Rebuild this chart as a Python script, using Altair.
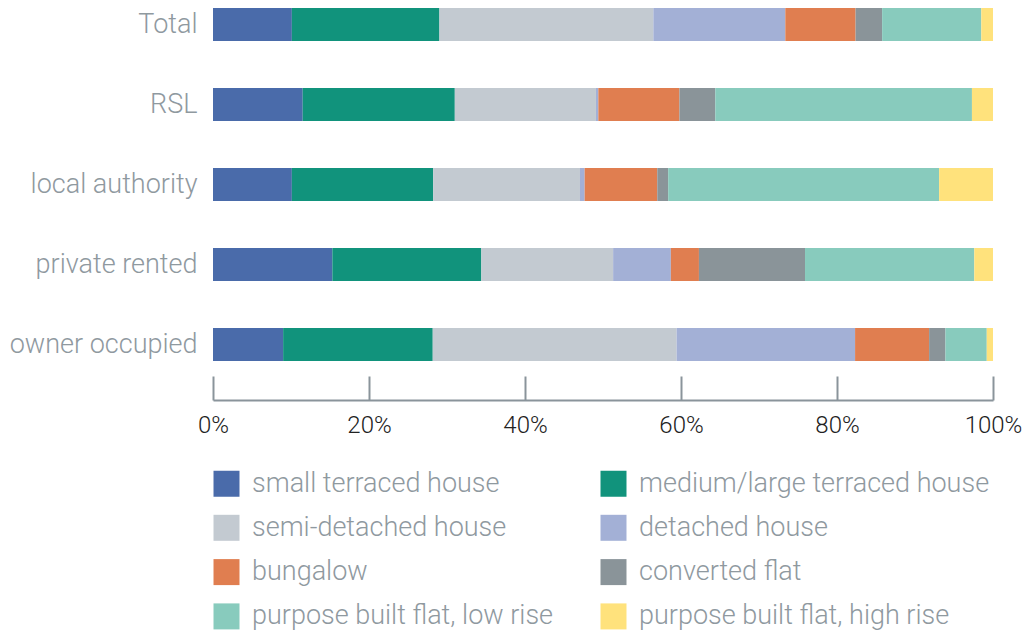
import altair as alt
import pandas as pd

tenures = ["Total", "RSL", "local authority", "private rented", "owner occupied"]
types = [
    "small terraced house",
    "medium/large terraced house",
    "semi-detached house",
    "detached house",
    "bungalow",
    "converted flat",
    "purpose built flat, low rise",
    "purpose built flat, high rise",
]
colors = ["#4A6BAA", "#11937C", "#C3CAD1", "#A3B0D6", "#E07E50", "#8A9499", "#88CBBD", "#FFE27C"]

total = [10.1, 18.9, 27.4, 16.9, 9.0, 3.4, 12.7, 1.5]
rsl = [11.5, 19.5, 18.1, 0.3, 10.4, 4.6, 32.9, 2.7]
local_authority = [10.1, 18.1, 18.8, 0.6, 9.3, 1.4, 34.7, 6.9]
private_rented = [15.3, 19.1, 16.9, 7.4, 3.6, 13.6, 21.7, 2.4]
owner_occupied = [9.0, 19.2, 31.3, 22.9, 9.5, 2.1, 5.3, 0.8]

series = [total, rsl, local_authority, private_rented, owner_occupied]
rows = []
for t, vals in zip(tenures, series):
    for i, (ty, v) in enumerate(zip(types, vals)):
        rows.append({"tenure": t, "type": ty, "order": i, "value": v})
df = pd.DataFrame(rows)

FONT = "Roboto"
GRAY = "#8F999F"
AX = "#8A949B"

y_enc = alt.Y(
    "tenure:N",
    sort=tenures,
    title=None,
    scale=alt.Scale(paddingInner=0.5875, paddingOuter=0),
    axis=alt.Axis(
        domain=False, ticks=False, labelFont=FONT, labelFontSize=27,
        labelFontWeight=300, labelColor=GRAY, labelPadding=16, labelLimit=400,
    ),
)
color_enc = alt.Color(
    "type:N",
    scale=alt.Scale(domain=types, range=colors),
    legend=alt.Legend(
        title=None, orient="none", legendX=0, legendY=462, columns=2,
        direction="horizontal",
        symbolType="square", symbolSize=676, symbolStrokeWidth=0,
        symbolOpacity=1, labelFont=FONT, labelFontSize=27, labelFontWeight=300,
        labelColor=GRAY, labelOffset=12, rowPadding=16.3, columnPadding=46,
        labelLimit=400,
    ),
)
order_enc = alt.Order("order:Q")

bars = alt.Chart(df).mark_bar().encode(
    x=alt.X(
        "value:Q", stack="normalize", title=None,
        axis=alt.Axis(
            orient="bottom",
            values=[0, 0.2, 0.4, 0.6, 0.8, 1.0], domain=False, grid=False,
            labels=False, ticks=True, tickSize=24, tickWidth=2, tickColor=AX,
            offset=15,
        ),
    ),
    y=y_enc,
    color=color_enc,
    order=order_enc,
)

axis_layer = alt.Chart(df).mark_bar(opacity=0).encode(
    x=alt.X(
        "value:Q", stack="normalize", title=None,
        axis=alt.Axis(
            orient="bottom",
            values=[0, 0.2, 0.4, 0.6, 0.8, 1.0], format=".0%", domain=True,
            domainColor=AX, domainWidth=2, grid=False, ticks=False,
            labelFlush=False, labelOverlap=False,
            labelFont=FONT, labelFontSize=24, labelFontWeight=300,
            labelColor="#222222", labelPadding=13, offset=39,
        ),
    ),
    y=y_enc,
    color=color_enc,
    order=order_enc,
)

chart = (
    alt.layer(bars, axis_layer)
    .resolve_axis(x="independent")
    .properties(
        width=780, height=353,
        autosize=alt.AutoSizeParams(type="none"),
        padding={"left": 205, "top": 0, "right": 29, "bottom": 272},
    )
    .configure_view(stroke=None)
)

chart.save("out.html", embed_options={"renderer": "svg", "actions": False})
